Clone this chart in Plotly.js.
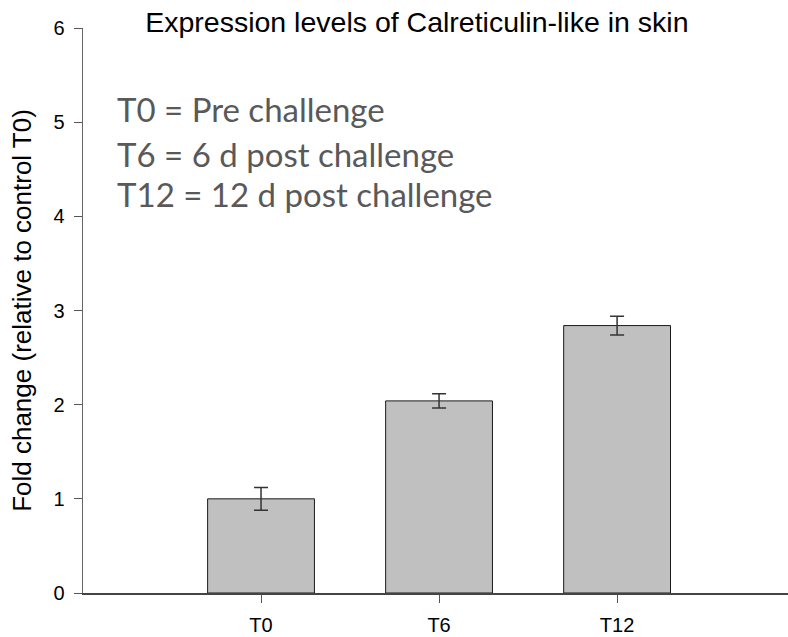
<!DOCTYPE html>
<html>
<head>
<meta charset="utf-8">
<script src="https://cdn.plot.ly/plotly-3.0.1.min.js"></script>
<style>html,body{margin:0;padding:0;background:#fff;}#chart{width:788px;height:637px;}</style>
</head>
<body>
<div id="chart"></div>
<script>
const categories = ["T0", "T6", "T12"];
const foldChange = [1.0, 2.04, 2.84];
const errorValues = [0.12, 0.075, 0.1];
const legendLines = ["T0 = Pre challenge", "T6 = 6 d post challenge", "T12 = 12 d post challenge"];
const yTicks = [0, 1, 2, 3, 4, 5, 6];

const trace = {
  type: "bar",
  x: categories,
  y: foldChange,
  width: 0.6,
  marker: {color: "#c0c0c0", line: {color: "#1a1a1a", width: 1}},
  error_y: {type: "data", array: errorValues, visible: true, color: "#333333", thickness: 1.5, width: 7},
  hoverinfo: "none"
};

const annY = [5.14, 4.66, 4.24];
const annotations = legendLines.map((t, i) => ({
  text: t, xref: "paper", yref: "y", x: 0.046, y: annY[i],
  xanchor: "left", yanchor: "middle", showarrow: false,
  font: {family: "Lato, 'Open Sans', sans-serif", size: 33, color: "#595959"}
}));

const layout = {
  width: 788, height: 637,
  margin: {l: 83, r: 0, t: 28, b: 44},
  paper_bgcolor: "#ffffff", plot_bgcolor: "#ffffff",
  showlegend: false,
  title: {text: "Expression levels of Calreticulin-like in skin", x: 0.529, xanchor: "center", y: 0.965, yanchor: "middle",
    font: {family: "'Liberation Sans', Arial, sans-serif", size: 28.5, color: "#000"}},
  xaxis: {
    type: "category", range: [-1, 2.96], showgrid: false, zeroline: false,
    showline: true, linecolor: "#444", linewidth: 1.5,
    ticks: "outside", ticklen: 8, tickcolor: "#555", tickwidth: 1,
    ticklabelstandoff: 5,
    tickfont: {family: "'Liberation Sans Narrow', 'Liberation Sans', Arial, sans-serif", size: 20, color: "#000"}
  },
  yaxis: {
    range: [0, 6], tickvals: yTicks, showgrid: false, zeroline: false,
    showline: true, linecolor: "#666", linewidth: 1.5,
    ticks: "outside", ticklen: 8, tickcolor: "#555", tickwidth: 1,
    ticklabelstandoff: 5,
    tickfont: {family: "'Liberation Sans', Arial, sans-serif", size: 20, color: "#000"},
    title: {text: "Fold change (relative to control T0)", standoff: 14,
      font: {family: "'Liberation Sans', Arial, sans-serif", size: 26, color: "#000"}}
  },
  annotations: annotations
};

Plotly.newPlot("chart", [trace], layout, {displayModeBar: false, staticPlot: true});
</script>
</body>
</html>
